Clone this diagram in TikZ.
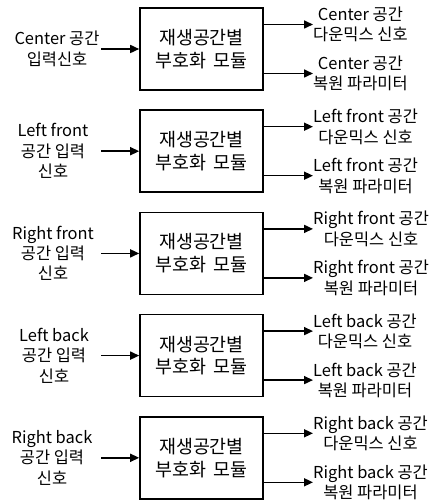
\documentclass[tikz,border=0pt]{standalone}
\usepackage{fontspec}
\setmainfont{Noto Sans CJK KR}
\usetikzlibrary{arrows.meta}
\tikzset{
  coder/.style={draw, line width=1.6pt, minimum width=123bp, minimum height=82bp,
    align=center, inner sep=0pt, font=\fontsize{18.5}{23}\selectfont},
  sidelabel/.style={align=center, inner sep=0pt, font=\fontsize{16.5}{20.5}\selectfont},
  sig/.style={line width=1.6pt, -{Triangle[length=9bp,width=8bp]}}
}
\begin{document}
\begin{tikzpicture}[x=1bp,y=-1bp]
\useasboundingbox (0,0) rectangle (436,504);
\foreach \i/\lx/\inA/\outA/\outB in {
  1/57/{Center 공간\\입력신호}/{Center 공간\\다운믹스 신호}/{Center 공간\\복원 파라미터},
  2/53/{Left front\\공간 입력\\신호}/{Left front 공간\\다운믹스 신호}/{Left front 공간\\복원 파라미터},
  3/53/{Right front\\공간 입력\\신호}/{Right front 공간\\다운믹스 신호}/{Right front 공간\\복원 파라미터},
  4/54/{Left back\\공간 입력\\신호}/{Left back 공간\\다운믹스 신호}/{Left back 공간\\복원 파라미터},
  5/52/{Right back\\공간 입력\\신호}/{Right back 공간\\다운믹스 신호}/{Right back 공간\\복원 파라미터}} {
  \pgfmathsetmacro{\cy}{49+102.2*(\i-1)}
  \node[coder] (enc\i) at (201.5,\cy) {재생공간별\\부호화 \,모듈};
  \node[sidelabel] (in\i) at (\lx,\cy) {\inA};
  \coordinate (src\i) at (101,\cy);
  \node[sidelabel, anchor=west] (dmx\i) at (313,\cy-24.5) {\outA};
  \node[sidelabel, anchor=west] (par\i) at (313,\cy+24.5) {\outB};
  \draw[sig] (src\i) -- (enc\i.west);
  \draw[sig] (enc\i.east |- dmx\i.west) -- (dmx\i.west);
  \draw[sig] (enc\i.east |- par\i.west) -- (par\i.west);
}
\end{tikzpicture}
\end{document}
